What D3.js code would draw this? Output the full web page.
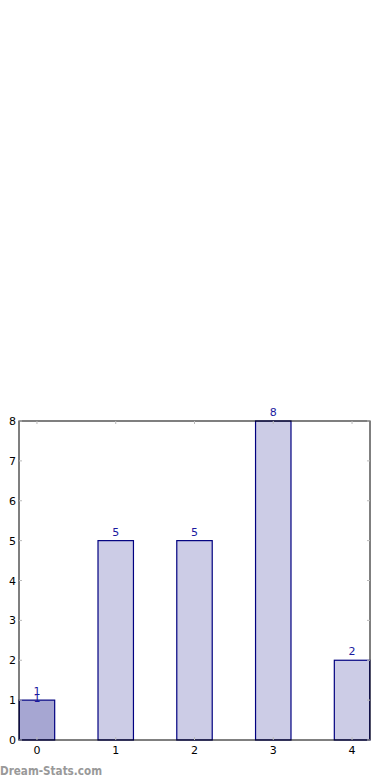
<!DOCTYPE html>
<html><head><meta charset="utf-8">
<script src="https://cdn.jsdelivr.net/npm/d3@7"></script>
<style>body{margin:0;background:#fff;}svg{display:block;font-family:"DejaVu Sans",sans-serif;}</style>
</head><body>
<svg id="c" width="390" height="780"></svg>
<script>
const categories = [0, 1, 2, 3, 4];
const values = [1, 5, 5, 8, 2];
const highlighted = [true, false, false, false, false];
const yTicks = [0, 1, 2, 3, 4, 5, 6, 7, 8];

const svg = d3.select("#c");
const L = 19, R = 370, T = 421, B = 740;
const barW = 0.45;
const x = d3.scaleLinear().domain([-0.228, 4.228]).range([L, R]);
const y = d3.scaleLinear().domain([0, 8]).range([B, T]);

// bars
svg.selectAll("rect.bar").data(categories).enter().append("rect")
  .attr("class", "bar")
  .attr("x", d => x(d - barW / 2))
  .attr("width", d => x(d + barW / 2) - x(d - barW / 2))
  .attr("y", (d, i) => y(values[i]))
  .attr("height", (d, i) => y(0) - y(values[i]))
  .attr("fill", (d, i) => highlighted[i] ? "#a6a6d2" : "#cccce6")
  .attr("stroke", "#000080").attr("stroke-width", 1.2);

// value labels
svg.selectAll("text.val").data(categories).enter().append("text")
  .attr("x", d => x(d)).attr("y", (d, i) => y(values[i]) - 5)
  .attr("text-anchor", "middle").attr("font-size", 11).attr("fill", "#1a1aa0")
  .text((d, i) => values[i]);
// overlapping second label on highlighted bar (as in the reference)
categories.forEach((d, i) => {
  if (highlighted[i]) {
    svg.append("text").attr("x", x(d)).attr("y", y(values[i]) + 2)
      .attr("text-anchor", "middle").attr("font-size", 11).attr("fill", "#1a1aa0")
      .text(values[i]);
  }
});

// frame
svg.append("rect").attr("x", L).attr("y", T).attr("width", R - L).attr("height", B - T)
  .attr("fill", "none").attr("stroke", "#000").attr("stroke-width", 1);

// ticks
const tk = "#bbbbbb";
categories.forEach(d => {
  svg.append("line").attr("x1", x(d)).attr("x2", x(d)).attr("y1", B).attr("y2", B - 3).attr("stroke", tk);
  svg.append("line").attr("x1", x(d)).attr("x2", x(d)).attr("y1", T).attr("y2", T + 3).attr("stroke", tk);
  svg.append("text").attr("x", x(d)).attr("y", B + 14).attr("text-anchor", "middle")
    .attr("font-size", 11).attr("fill", "#000").text(d);
});
yTicks.forEach(v => {
  svg.append("line").attr("x1", L).attr("x2", L + 3).attr("y1", y(v)).attr("y2", y(v)).attr("stroke", tk);
  svg.append("line").attr("x1", R).attr("x2", R - 3).attr("y1", y(v)).attr("y2", y(v)).attr("stroke", tk);
  svg.append("text").attr("x", L - 3).attr("y", y(v) + 4).attr("text-anchor", "end")
    .attr("font-size", 11).attr("fill", "#000").text(v);
});

// watermark
svg.append("text").attr("x", 0).attr("y", 775).attr("font-size", 12).attr("font-weight", 600)
  .attr("fill", "#999").attr("textLength", 102).attr("lengthAdjust", "spacingAndGlyphs")
  .text("Dream-Stats.com");
</script>
</body></html>
